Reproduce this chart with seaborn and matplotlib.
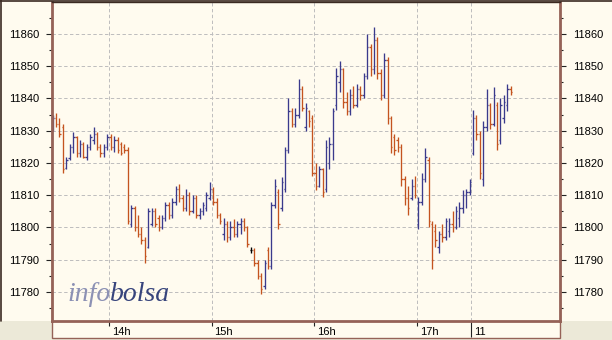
import numpy as np
import pandas as pd
import matplotlib
matplotlib.use("Agg")
import matplotlib.pyplot as plt
import seaborn as sns
from matplotlib.patches import Rectangle
from matplotlib.lines import Line2D
from matplotlib.ticker import MultipleLocator
from matplotlib.transforms import ScaledTranslation

# ---------------- data (2-minute OHLC bars) ----------------
opens = [11831, 11834, 11832, 11831, 11818.5, 11821.5, 11825, 11828, 11823, 11826,
         11822, 11825, 11827, 11829, 11825, 11823, 11825, 11828, 11825, 11827,
         11826, 11825, 11824, 11801, 11806, 11800, 11798, 11796, 11794, 11801,
         11805, 11803, 11800, 11803, 11807, 11804, 11808, 11812, 11809, 11806,
         11810, 11805, 11809, 11804, 11805, 11806, 11809, 11812, 11808, 11804,
         11798, 11801, 11797, 11800, 11798, 11801, 11802, 11800, 11793, 11793,
         11789, 11785, 11782, 11793, 11788, 11807, 11811, 11806, 11812, 11824,
         11836, 11832, 11835, 11843, 11831, 11836, 11834, 11817, 11813, 11818,
         11812, 11820, 11826, 11838, 11845, 11849, 11839, 11836, 11841, 11838,
         11843, 11841, 11847, 11856, 11849, 11858, 11848, 11841, 11852, 11834,
         11828, 11827, 11825, 11815, 11809, 11809, 11813, 11801, 11808, 11815,
         11821, 11801, 11799, 11794, 11798, 11797, 11799, 11801, 11800, 11803,
         11806, 11810, 11811, 11823, 11834, 11829, 11815, 11831, 11838, 11832,
         11838, 11827, 11834, 11838, 11843]
highs = [11835, 11835.5, 11834, 11832, 11822, 11826, 11829.5, 11828.5, 11827, 11826.5,
         11826, 11829, 11831, 11829.5, 11826, 11826, 11829, 11829, 11828.5, 11828,
         11826.5, 11826, 11825, 11807, 11806.5, 11804, 11800, 11797, 11806, 11806,
         11806, 11804, 11804, 11808, 11808, 11809, 11813, 11813.5, 11810, 11812,
         11811, 11810, 11810, 11806, 11808, 11811, 11814, 11812.5, 11809, 11804.5,
         11803, 11802, 11802, 11802.5, 11802, 11803, 11803, 11800.5, 11794, 11793.5,
         11790, 11786, 11790, 11794, 11808, 11815, 11812, 11815.5, 11825, 11840,
         11837, 11837, 11846, 11844, 11838.5, 11836.5, 11835, 11820, 11819, 11818.5,
         11827, 11828, 11837, 11849.5, 11851.5, 11849.5, 11842, 11843, 11844, 11844.5,
         11844, 11848, 11860, 11857, 11862, 11859, 11849, 11854, 11853, 11834.5,
         11829, 11828, 11826, 11816, 11813, 11815, 11816, 11809.5, 11817, 11824.5,
         11822, 11802, 11801, 11799, 11801, 11803, 11803, 11805, 11806.5, 11808,
         11811.5, 11812, 11815, 11836.5, 11835, 11830, 11833, 11843, 11838.5, 11843.5,
         11839, 11840, 11841, 11844.5, 11844]
lows = [11830, 11831, 11828, 11817, 11818, 11821, 11823, 11822, 11822, 11821.5,
        11821, 11824, 11826, 11824, 11822, 11822, 11824, 11824, 11823.5, 11823,
        11822.5, 11823, 11801, 11800, 11799, 11797, 11795, 11789, 11793.5, 11800.5,
        11800, 11799, 11799.5, 11802, 11802.5, 11803, 11807, 11808, 11805, 11805,
        11804, 11804.5, 11803, 11802.5, 11804, 11805, 11808.5, 11807, 11803, 11801,
        11796, 11795.5, 11796, 11797, 11797, 11798, 11799, 11794, 11792, 11788,
        11784, 11779.5, 11781, 11787, 11787, 11806, 11799.5, 11805, 11811, 11823,
        11831, 11831, 11834, 11836, 11830, 11831, 11816, 11811.5, 11812.5, 11809.5,
        11811, 11818, 11821, 11836.5, 11842, 11837, 11835, 11835, 11837, 11837.5,
        11839.5, 11840, 11846, 11847, 11847.5, 11846, 11839.5, 11840, 11832, 11823,
        11822.5, 11823.5, 11813, 11807, 11804, 11808.5, 11809, 11799.5, 11807, 11814,
        11800, 11787, 11794, 11792, 11795.5, 11796, 11797, 11798.5, 11799.5, 11800,
        11804.5, 11806, 11810, 11822.5, 11827, 11815, 11813, 11830, 11830.5, 11831.5,
        11824, 11826, 11832.5, 11836, 11841]
closes = [11834, 11832, 11829, 11818, 11821, 11825, 11828, 11823, 11826, 11822,
          11825, 11828, 11829, 11825, 11823, 11825, 11828, 11825, 11827, 11824,
          11823, 11824, 11802, 11806, 11800, 11798, 11796, 11791, 11805, 11805,
          11801, 11800, 11803, 11807, 11804, 11808, 11812, 11809, 11806, 11810,
          11805, 11809, 11804, 11805, 11807, 11810, 11812, 11808, 11804, 11802,
          11801, 11797, 11800, 11798, 11801, 11802, 11800, 11795, 11793, 11789,
          11785, 11781, 11789, 11788, 11807, 11813, 11801, 11814, 11824, 11836,
          11832, 11835, 11843, 11837, 11837, 11833, 11817, 11813, 11818, 11811,
          11825, 11826, 11836, 11847, 11849, 11839, 11836, 11841, 11838, 11843,
          11841, 11847, 11856, 11849, 11858, 11848, 11841, 11852, 11834, 11825,
          11824, 11825, 11815, 11809, 11806, 11813, 11810, 11808, 11815, 11822,
          11802, 11790, 11796, 11798, 11797, 11802, 11801, 11800, 11805, 11806,
          11810, 11811, 11814, 11834, 11829, 11817, 11831, 11838, 11832, 11841,
          11826, 11838, 11839, 11843, 11842]

start_hour = 13.45          # first bar
bars_per_hour = 30          # 2-minute bars
hour_ticks = [14, 15, 16, 17]
hour_labels = ["14h", "15h", "16h", "17h"]
day_break = 17.5333         # new session marker
day_label = "11"
y_min, y_max = 11771.0, 11869.9
x_min, x_max = 13.4439, 18.398

# ---------------- style ----------------
sns.set_theme(style="white")
plt.rcParams["font.family"] = ["Liberation Sans", "DejaVu Sans"]

cream = "#FFFBEF"
grey_bg = "#ECE9D8"
spine_brown = "#956257"
up_col = "#3A3A8C"
down_col = "#C4531F"

df = pd.DataFrame({"o": opens, "h": highs, "l": lows, "c": closes})
df["t"] = start_hour + np.arange(len(df)) / bars_per_hour
df["col"] = np.where(df.c > df.o, up_col, np.where(df.c < df.o, down_col, "black"))

fig = plt.figure(figsize=(6.12, 3.40), dpi=100, facecolor=grey_bg)
W, H = 612.0, 340.0

# cream background for chart + label panels
fig.patches.append(Rectangle((0, 1 - 321 / H), 1, 321 / H, transform=fig.transFigure,
                             facecolor=cream, edgecolor="none", zorder=-10))
fig.patches.append(Rectangle((52 / W, 2.5 / H), 508 / W, (321 - 2.5) / H,
                             transform=fig.transFigure, facecolor=cream,
                             edgecolor=spine_brown, lw=1.0, zorder=-9))
fig.lines.append(Line2D([1 / W, 1 / W], [1 - 321 / H, 1], transform=fig.transFigure,
                        color="#3B2A22", lw=1.2))
fig.lines.append(Line2D([0, 1], [1 - 1 / H, 1 - 1 / H], transform=fig.transFigure,
                        color="#3B2A22", lw=1.2))

ax = fig.add_axes([52 / W, 1 - 321 / H, 508 / W, 319 / H])
ax.set_facecolor(cream)

# OHLC bars
tw = 0.4 / bars_per_hour
ax.vlines(df.t, df.l, df.h, colors=df.col, lw=0.95)
ax.hlines(df.o, df.t - tw, df.t, colors=df.col, lw=0.95)
ax.hlines(df.c, df.t, df.t + tw, colors=df.col, lw=0.95)

ax.set_xlim(x_min, x_max)
ax.set_ylim(y_min, y_max)

# y axis: labels both sides
ax.yaxis.set_major_locator(MultipleLocator(10))
ax.yaxis.set_minor_locator(MultipleLocator(5))
ax.tick_params(axis="y", which="major", left=True, right=True, labelleft=True,
               labelright=True, direction="out", length=4.3, width=0.8,
               color="#222222", labelsize=8, pad=5, labelcolor="black")
ax.tick_params(axis="y", which="minor", left=True, right=True, direction="out",
               length=2.2, width=0.8, color="#222222")

# x axis
ax.set_xticks(hour_ticks + [day_break])
ax.set_xticklabels(hour_labels + [day_label])
ax.tick_params(axis="x", which="major", bottom=True, direction="out", length=3.6,
               width=0.8, color="#222222", labelsize=8, pad=0.5, labelcolor="black")
offset = ScaledTranslation(3 / 100, 0, fig.dpi_scale_trans)
for lab in ax.get_xticklabels():
    lab.set_horizontalalignment("left")
    lab.set_transform(lab.get_transform() + offset)
ax.xaxis.get_major_ticks()[-1].tick1line.set_markersize(11.5)
ax.xaxis.get_major_ticks()[-1].tick1line.set_color("black")

ax.grid(True, which="major", color="#BDBDBD", ls=(0, (3.5, 2.5)), lw=0.7)

for side in ["left", "right", "bottom"]:
    ax.spines[side].set_color(spine_brown)
    ax.spines[side].set_linewidth(2.0)
ax.spines["top"].set_color("#3B2A22")
ax.spines["top"].set_linewidth(1.0)

# watermark
ax.text(67 / W, 1 - 300.7 / H, "info", transform=fig.transFigure, family="Liberation Serif",
        style="italic", fontsize=20, color="#8C91B4", va="baseline", ha="left")
ax.text(110 / W, 1 - 300.7 / H, "bolsa", transform=fig.transFigure, family="Liberation Serif",
        style="italic", fontsize=20, color="#37447C", va="baseline", ha="left")

fig.savefig("out.png", dpi=100, facecolor=grey_bg)
